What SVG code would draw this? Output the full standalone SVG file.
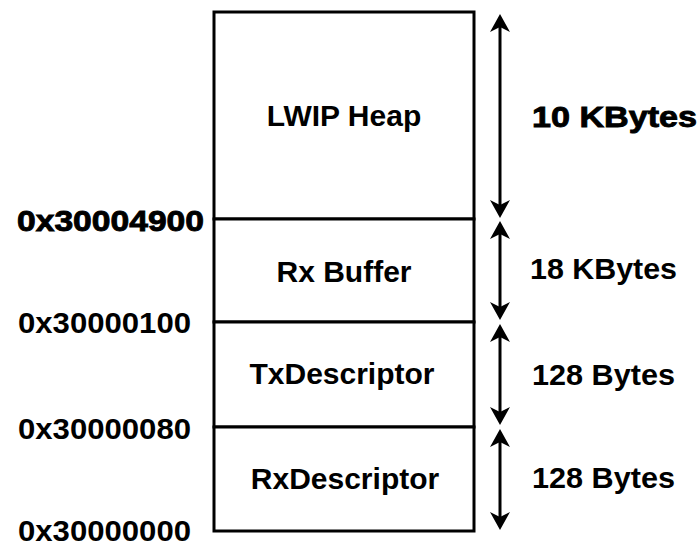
<svg xmlns="http://www.w3.org/2000/svg" width="700" height="554" viewBox="0 0 700 554">
<defs>
<style>
.box{fill:#fff;stroke:#000;stroke-width:3}
.lbl{font-family:"Liberation Sans",Arial,sans-serif;font-weight:bold;font-size:30px;fill:#000;text-anchor:middle}
.addr{font-family:"Liberation Sans",Arial,sans-serif;font-weight:bold;font-size:30px;fill:#000}
.heavy{stroke:#000;stroke-width:0.9}
.arr{stroke:#000;stroke-width:3;fill:none;marker-start:url(#ah);marker-end:url(#ah)}
</style>
<marker id="ah" viewBox="0 0 18 20" refX="10" refY="10" markerWidth="18" markerHeight="20" markerUnits="userSpaceOnUse" orient="auto-start-reverse">
<path d="M0,0 L18,10 L0,20 L5,10 z" fill="#000"/>
</marker>
</defs>
<rect width="700" height="554" fill="#fff"/>
<g id="lwip-heap">
<rect class="box" x="214" y="12" width="260" height="207"/>
<text class="lbl" x="344" y="126">LWIP Heap</text>
</g>
<g id="rx-buffer">
<rect class="box" x="214" y="219" width="260" height="103"/>
<text class="lbl" x="344" y="282">Rx Buffer</text>
</g>
<g id="tx-descriptor">
<rect class="box" x="214" y="322" width="260" height="105"/>
<text class="lbl" x="342" y="384">TxDescriptor</text>
</g>
<g id="rx-descriptor">
<rect class="box" x="214" y="427" width="260" height="104"/>
<text class="lbl" x="345" y="489">RxDescriptor</text>
</g>
<g id="addresses">
<text class="addr heavy" x="17" y="231" textLength="187" lengthAdjust="spacingAndGlyphs">0x30004900</text>
<text class="addr" x="18" y="333" textLength="173" lengthAdjust="spacingAndGlyphs">0x30000100</text>
<text class="addr" x="18" y="439" textLength="173" lengthAdjust="spacingAndGlyphs">0x30000080</text>
<text class="addr" x="18" y="541" textLength="173" lengthAdjust="spacingAndGlyphs">0x30000000</text>
</g>
<g id="sizes">
<text class="addr heavy" x="532" y="127" textLength="165" lengthAdjust="spacingAndGlyphs">10 KBytes</text>
<text class="addr" x="530" y="279" textLength="147" lengthAdjust="spacingAndGlyphs">18 KBytes</text>
<text class="addr" x="532" y="385" textLength="143" lengthAdjust="spacingAndGlyphs">128 Bytes</text>
<text class="addr" x="532" y="488" textLength="143" lengthAdjust="spacingAndGlyphs">128 Bytes</text>
</g>
<g id="connectors">
<line class="arr" x1="500" y1="22" x2="500" y2="210"/>
<line class="arr" x1="500" y1="229" x2="500" y2="312"/>
<line class="arr" x1="500" y1="332" x2="500" y2="417"/>
<line class="arr" x1="500" y1="437" x2="500" y2="522"/>
</g>
</svg>
